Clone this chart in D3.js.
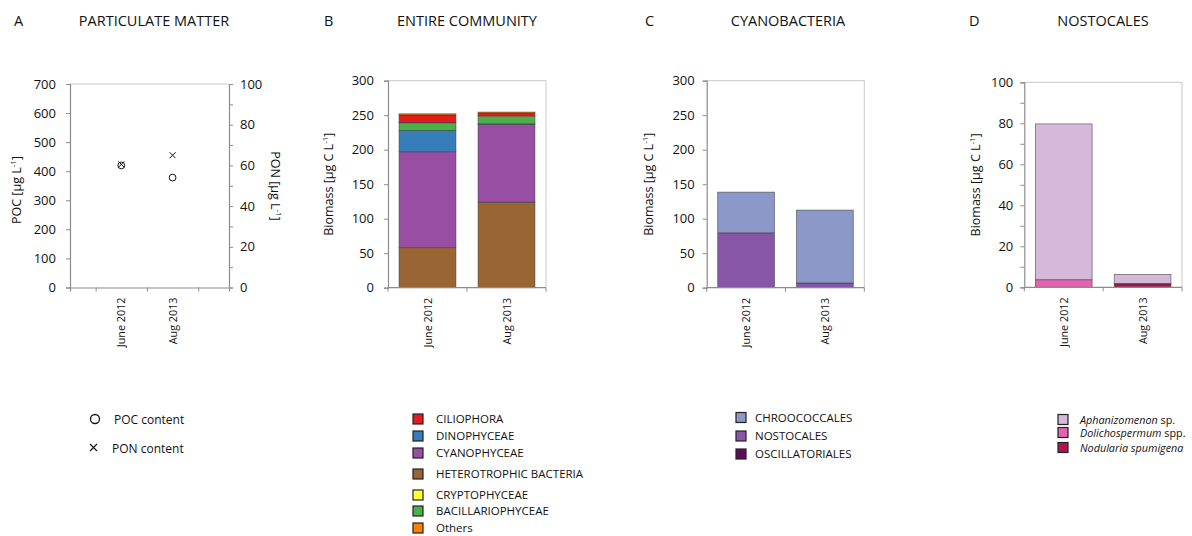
<!DOCTYPE html>
<html>
<head>
<meta charset="utf-8">
<script src="https://cdn.jsdelivr.net/npm/d3@7"></script>
<style>
  html, body { margin: 0; padding: 0; background: #fff; }
  svg { display: block; font-family: "Open Sans", "Noto Sans", sans-serif; }
</style>
</head>
<body>
<svg id="chart" width="1192" height="536"></svg>
<script>
// ---- data ----
const categories = ["June 2012", "Aug 2013"];

// Panel A: particulate matter
const pocValues = [420, 378];   // µg L-1
const ponValues = [60.5, 65];   // µg L-1
const pocTicks = [0, 100, 200, 300, 400, 500, 600, 700];
const ponTicks = [0, 20, 40, 60, 80, 100];

// Panel B: entire community biomass (µg C L-1), stacked bottom to top
const communityGroups = ["HETEROTROPHIC BACTERIA", "CYANOPHYCEAE", "DINOPHYCEAE", "BACILLARIOPHYCEAE", "CRYPTOPHYCEAE", "CILIOPHORA", "Others"];
const heterotrophicBacteria = [58, 124];
const cyanophyceae = [139, 113];
const dinophyceae = [31, 0.5];
const bacillariophyceae = [11, 10.5];
const cryptophyceae = [0.3, 1];
const ciliophora = [11, 4];
const othersGroup = [1.7, 1.5];
const communityLegend = ["CILIOPHORA", "DINOPHYCEAE", "CYANOPHYCEAE", "HETEROTROPHIC BACTERIA", "CRYPTOPHYCEAE", "BACILLARIOPHYCEAE", "Others"];
const biomassTicks300 = [0, 50, 100, 150, 200, 250, 300];

// Panel C: cyanobacteria biomass, stacked bottom to top
const cyanoGroups = ["OSCILLATORIALES", "NOSTOCALES", "CHROOCOCCALES"];
const oscillatoriales = [0.5, 0.5];
const nostocales = [79, 6.3];
const chroococcales = [59, 105.7];
const cyanoLegend = ["CHROOCOCCALES", "NOSTOCALES", "OSCILLATORIALES"];

// Panel D: Nostocales biomass, stacked bottom to top
const nostocalesGroups = ["Nodularia spumigena", "Dolichospermum spp.", "Aphanizomenon sp."];
const nodularia = [0, 1.6];
const dolichospermum = [3.7, 0.3];
const aphanizomenon = [76, 4.4];
const nostocalesLegend = ["Aphanizomenon sp.", "Dolichospermum spp.", "Nodularia spumigena"];
const biomassTicks100 = [0, 20, 40, 60, 80, 100];

// ---- styles ----
const colors = {
  "CILIOPHORA": "#e41a1c",
  "DINOPHYCEAE": "#377eb8",
  "CYANOPHYCEAE": "#984ea3",
  "HETEROTROPHIC BACTERIA": "#9a6534",
  "CRYPTOPHYCEAE": "#ffff33",
  "BACILLARIOPHYCEAE": "#4daf4a",
  "Others": "#ff7f00",
  "CHROOCOCCALES": "#8c98c7",
  "NOSTOCALES": "#8756a6",
  "OSCILLATORIALES": "#5e0b5a",
  "Aphanizomenon sp.": "#d5b8da",
  "Dolichospermum spp.": "#e064ae",
  "Nodularia spumigena": "#b0134f"
};
const axisColor = "#8c8c8c";
const frameColor = "#c8c8c8";
const textColor = "#111";

const svg = d3.select("#chart");

// ---- helpers ----
function yTitle(g, x, y, rot, main) {
  const t = g.append("text")
    .attr("transform", `translate(${x},${y}) rotate(${rot})`)
    .attr("text-anchor", "middle")
    .attr("font-size", 12.5)
    .attr("fill", textColor);
  t.append("tspan").text(main);
  t.append("tspan").attr("font-size", 8).attr("dy", -5).text("-1");
  t.append("tspan").attr("dy", 5).text("]");
}

function panelTitle(letter, lx, title, tx) {
  svg.append("text").attr("x", lx).attr("y", 26).attr("font-size", 14.5)
    .attr("fill", textColor).text(letter);
  svg.append("text").attr("x", tx).attr("y", 26).attr("font-size", 14.5)
    .attr("text-anchor", "middle").attr("fill", textColor).text(title);
}

function frame(g, x0, x1, y0, y1) {
  g.append("path")
    .attr("d", `M${x0},${y0}H${x1}V${y1}`)
    .attr("fill", "none").attr("stroke", frameColor).attr("stroke-width", 1);
}

function styleAxis(sel, fontSize) {
  sel.select(".domain").attr("stroke", axisColor).attr("stroke-width", 1.2);
  sel.selectAll(".tick line").attr("stroke", axisColor);
  sel.selectAll(".tick text").attr("fill", textColor).attr("font-size", fontSize)
    .attr("font-family", "\"Open Sans\", sans-serif");
}

function categoryLabels(g, xs, yTop) {
  categories.forEach((c, i) => {
    g.append("text")
      .attr("transform", `translate(${xs[i] + 4},${yTop}) rotate(-90)`)
      .attr("text-anchor", "end")
      .attr("font-size", 10.8)
      .attr("fill", textColor)
      .text(c);
  });
}

// Stacked bar panel
function stackedPanel(cfg) {
  const g = svg.append("g");
  const x = d3.scaleBand().domain(categories).range([cfg.x0, cfg.x1])
    .paddingInner(0.28).paddingOuter(0.14);
  const y = d3.scaleLinear().domain([0, cfg.max]).range([cfg.y0, cfg.y1]);

  frame(g, cfg.x0, cfg.x1, cfg.y1, cfg.y0);

  const table = categories.map((c, i) => {
    const row = { category: c };
    cfg.groups.forEach((k, j) => { row[k] = cfg.series[j][i]; });
    return row;
  });
  const stack = d3.stack().keys(cfg.groups)(table);

  g.selectAll("g.layer").data(stack).join("g").attr("class", "layer")
    .attr("fill", d => colors[d.key])
    .selectAll("rect").data(d => d).join("rect")
    .attr("x", d => x(d.data.category))
    .attr("width", x.bandwidth())
    .attr("y", d => y(d[1]))
    .attr("height", d => Math.max(0, y(d[0]) - y(d[1])))
    .attr("stroke", "#3a3a3a").attr("stroke-width", 0.7).attr("stroke-opacity", 0.75);

  // y axis
  const ya = g.append("g").attr("transform", `translate(${cfg.x0},0)`)
    .call(d3.axisLeft(y).tickValues(cfg.minorTicks || cfg.ticks)
      .tickFormat(v => cfg.ticks.includes(v) ? v : "")
      .tickSize(4).tickPadding(cfg.pad));
  styleAxis(ya, 13);

  // x axis: ticks at the category boundaries
  const bounds = [cfg.x0, (cfg.x0 + cfg.x1) / 2, cfg.x1];
  g.append("line").attr("x1", cfg.x0).attr("x2", cfg.x1).attr("y1", cfg.y0).attr("y2", cfg.y0)
    .attr("stroke", axisColor).attr("stroke-width", 1.2);
  g.selectAll("line.xt").data(bounds).join("line").attr("class", "xt")
    .attr("x1", d => d).attr("x2", d => d).attr("y1", cfg.y0).attr("y2", cfg.y0 + 4)
    .attr("stroke", axisColor);

  categoryLabels(g, categories.map(c => x(c) + x.bandwidth() / 2), cfg.y0 + 10);
  yTitle(g, cfg.titleX, (cfg.y0 + cfg.y1) / 2, -90, "Biomass [µg C L");
}

function legend(items, x, ys, textOffset, fontSize, italicFn) {
  const g = svg.append("g");
  items.forEach((k, i) => {
    g.append("rect").attr("x", x - 5).attr("y", ys[i] - 5).attr("width", 10).attr("height", 10)
      .attr("fill", colors[k]).attr("stroke", "#222").attr("stroke-width", 1.2);
    const t = g.append("text").attr("x", x + textOffset).attr("y", ys[i] + 4)
      .attr("font-size", fontSize).attr("fill", textColor);
    if (italicFn) italicFn(t, k); else t.text(k);
  });
}

// ---- Panel A ----
(function () {
  const g = svg.append("g");
  const x0 = 70, x1 = 229, y0 = 287.5, y1 = 84;
  const x = d3.scaleLinear().domain([0, 3.1]).range([x0, x1]);
  const yPoc = d3.scaleLinear().domain([0, 700]).range([y0, y1]);
  const yPon = d3.scaleLinear().domain([0, 100]).range([y0, y1]);

  g.append("line").attr("x1", x0).attr("x2", x1).attr("y1", y1).attr("y2", y1)
    .attr("stroke", frameColor);

  const yl = g.append("g").attr("transform", `translate(${x0},0)`)
    .call(d3.axisLeft(yPoc).tickValues(pocTicks).tickSize(4).tickPadding(10));
  styleAxis(yl, 13);
  const yr = g.append("g").attr("transform", `translate(${x1},0)`)
    .call(d3.axisRight(yPon).tickValues(d3.range(0, 101, 10))
      .tickFormat(v => ponTicks.includes(v) ? v : "").tickSize(4).tickPadding(7));
  styleAxis(yr, 13);
  const xa = g.append("g").attr("transform", `translate(0,${y0})`)
    .call(d3.axisBottom(x).tickValues([0.5, 1.5, 2.5]).tickFormat("").tickSize(4));
  styleAxis(xa, 11);

  // POC points (circles)
  g.selectAll("circle.poc").data(pocValues).join("circle").attr("class", "poc")
    .attr("cx", (d, i) => x(i + 1)).attr("cy", d => yPoc(d)).attr("r", 3.4)
    .attr("fill", "none").attr("stroke", "#111").attr("stroke-width", 1);
  // PON points (crosses)
  const s = 3;
  g.selectAll("path.pon").data(ponValues).join("path").attr("class", "pon")
    .attr("d", (d, i) => {
      const cx = x(i + 1), cy = yPon(d);
      return `M${cx - s},${cy - s}L${cx + s},${cy + s}M${cx - s},${cy + s}L${cx + s},${cy - s}`;
    })
    .attr("stroke", "#111").attr("stroke-width", 1);

  categoryLabels(g, [x(1), x(2)], y0 + 10);
  yTitle(g, 21, 190, -90, "POC [µg L");
  yTitle(g, 271, 186, 90, "PON [µg L");

  // legend
  svg.append("circle").attr("cx", 95).attr("cy", 419).attr("r", 4.5)
    .attr("fill", "none").attr("stroke", "#111").attr("stroke-width", 1.3);
  svg.append("text").attr("x", 114).attr("y", 423.5).attr("font-size", 12)
    .attr("fill", textColor).text("POC content");
  svg.append("path").attr("d", "M90,444L97,451M90,451L97,444").attr("stroke", "#111").attr("stroke-width", 1.2);
  svg.append("text").attr("x", 112).attr("y", 452.5).attr("font-size", 12)
    .attr("fill", textColor).text("PON content");
})();

panelTitle("A", 14, "PARTICULATE MATTER", 154);
panelTitle("B", 324, "ENTIRE COMMUNITY", 467);
panelTitle("C", 645, "CYANOBACTERIA", 788);
panelTitle("D", 969, "NOSTOCALES", 1103);

// ---- Panel B ----
stackedPanel({
  x0: 388, x1: 546, y0: 287.7, y1: 80.7, max: 300, pad: 10,
  ticks: biomassTicks300, titleX: 333,
  groups: communityGroups,
  series: [heterotrophicBacteria, cyanophyceae, dinophyceae, bacillariophyceae, cryptophyceae, ciliophora, othersGroup]
});
legend(communityLegend, 418, [419, 436, 453, 474, 495, 511, 528], 18, 11.5);

// ---- Panel C ----
stackedPanel({
  x0: 706.7, x1: 864.3, y0: 287.7, y1: 80.7, max: 300, pad: 8,
  ticks: biomassTicks300, titleX: 653,
  groups: cyanoGroups,
  series: [oscillatoriales, nostocales, chroococcales]
});
legend(cyanoLegend, 741, [417.5, 436, 454], 14, 11.5);

// ---- Panel D ----
stackedPanel({
  x0: 1024.3, x1: 1182, y0: 287.3, y1: 82.3, max: 100, pad: 7,
  ticks: biomassTicks100, minorTicks: d3.range(0, 101, 10), titleX: 980,
  groups: nostocalesGroups,
  series: [nodularia, dolichospermum, aphanizomenon]
});
legend(nostocalesLegend, 1063, [419.5, 432.5, 447.5], 17, 10.8, (t, k) => {
  const parts = { "Aphanizomenon sp.": ["Aphanizomenon", " sp."],
                  "Dolichospermum spp.": ["Dolichospermum", " spp."],
                  "Nodularia spumigena": ["Nodularia spumigena", ""] }[k];
  t.append("tspan").attr("font-style", "italic").text(parts[0]);
  if (parts[1]) t.append("tspan").text(parts[1]);
});
</script>
</body>
</html>
